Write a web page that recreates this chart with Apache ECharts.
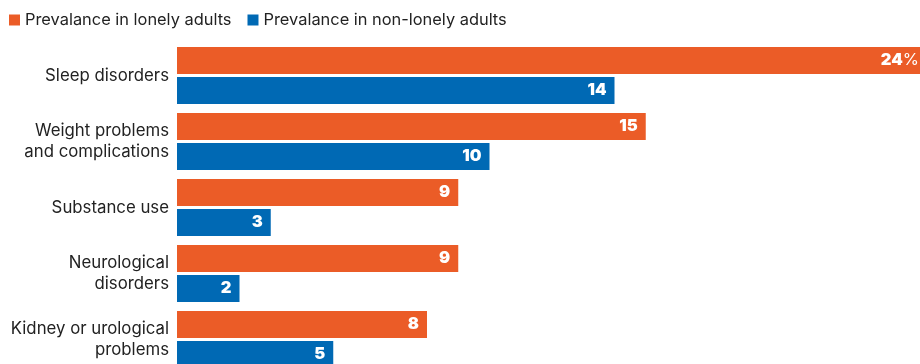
<!DOCTYPE html>
<html><head><meta charset="utf-8">
<script src="https://cdn.jsdelivr.net/npm/echarts@6/dist/echarts.min.js"></script>
<style>html,body{margin:0;padding:0;background:#fff}#c{width:920px;height:364px}</style>
</head><body><div id="c"></div>
<script>
var categories = ['Sleep disorders', 'Weight problems\nand complications', 'Substance use', 'Neurological\ndisorders', 'Kidney or urological\nproblems'];
var lonely = [24, 15, 9, 9, 8];
var nonLonely = [14, 10, 3, 2, 5];
var seriesNames = ['Prevalance in lonely adults', 'Prevalance in non-lonely adults'];

var FONT = 'Inter';
var chart = echarts.init(document.getElementById('c'), null, {renderer: 'canvas'});
function lbl(isFirst) {
  return {
    show: true, position: 'insideRight', distance: 8,
    formatter: function (p) { return (isFirst && p.dataIndex === 0) ? '{b|' + p.value + '}{p|%}' : '{b|' + p.value + '}'; },
    rich: {
      b: {color: '#fff', fontFamily: FONT, fontWeight: 900, fontSize: 16.5},
      p: {color: '#fff', fontFamily: FONT, fontWeight: 400, fontSize: 16.5}
    }
  };
}
chart.setOption({
  animation: false,
  legend: {
    left: 4, top: 7, icon: 'rect', itemWidth: 11, itemHeight: 11, itemGap: 16,
    textStyle: {fontFamily: FONT, fontSize: 16.4, color: '#222'},
    data: seriesNames
  },
  grid: {left: 177, right: -7, top: 42.5, height: 330, outerBoundsMode: 'none', containLabel: false},
  xAxis: {type: 'value', min: 0, max: 24, show: false},
  yAxis: {
    type: 'category', data: categories, inverse: true,
    axisLine: {show: false}, axisTick: {show: false},
    axisLabel: {fontFamily: FONT, fontSize: 16.8, color: '#222', margin: 8, lineHeight: 21, align: 'right'}
  },
  series: [
    {name: seriesNames[0], type: 'bar', data: lonely, itemStyle: {color: '#EB5C27'}, barCategoryGap: '13.6%', barGap: '11%', label: lbl(true)},
    {name: seriesNames[1], type: 'bar', data: nonLonely, itemStyle: {color: '#0069B4'}, barCategoryGap: '13.6%', barGap: '11%', label: lbl(false)}
  ]
});
</script></body></html>
